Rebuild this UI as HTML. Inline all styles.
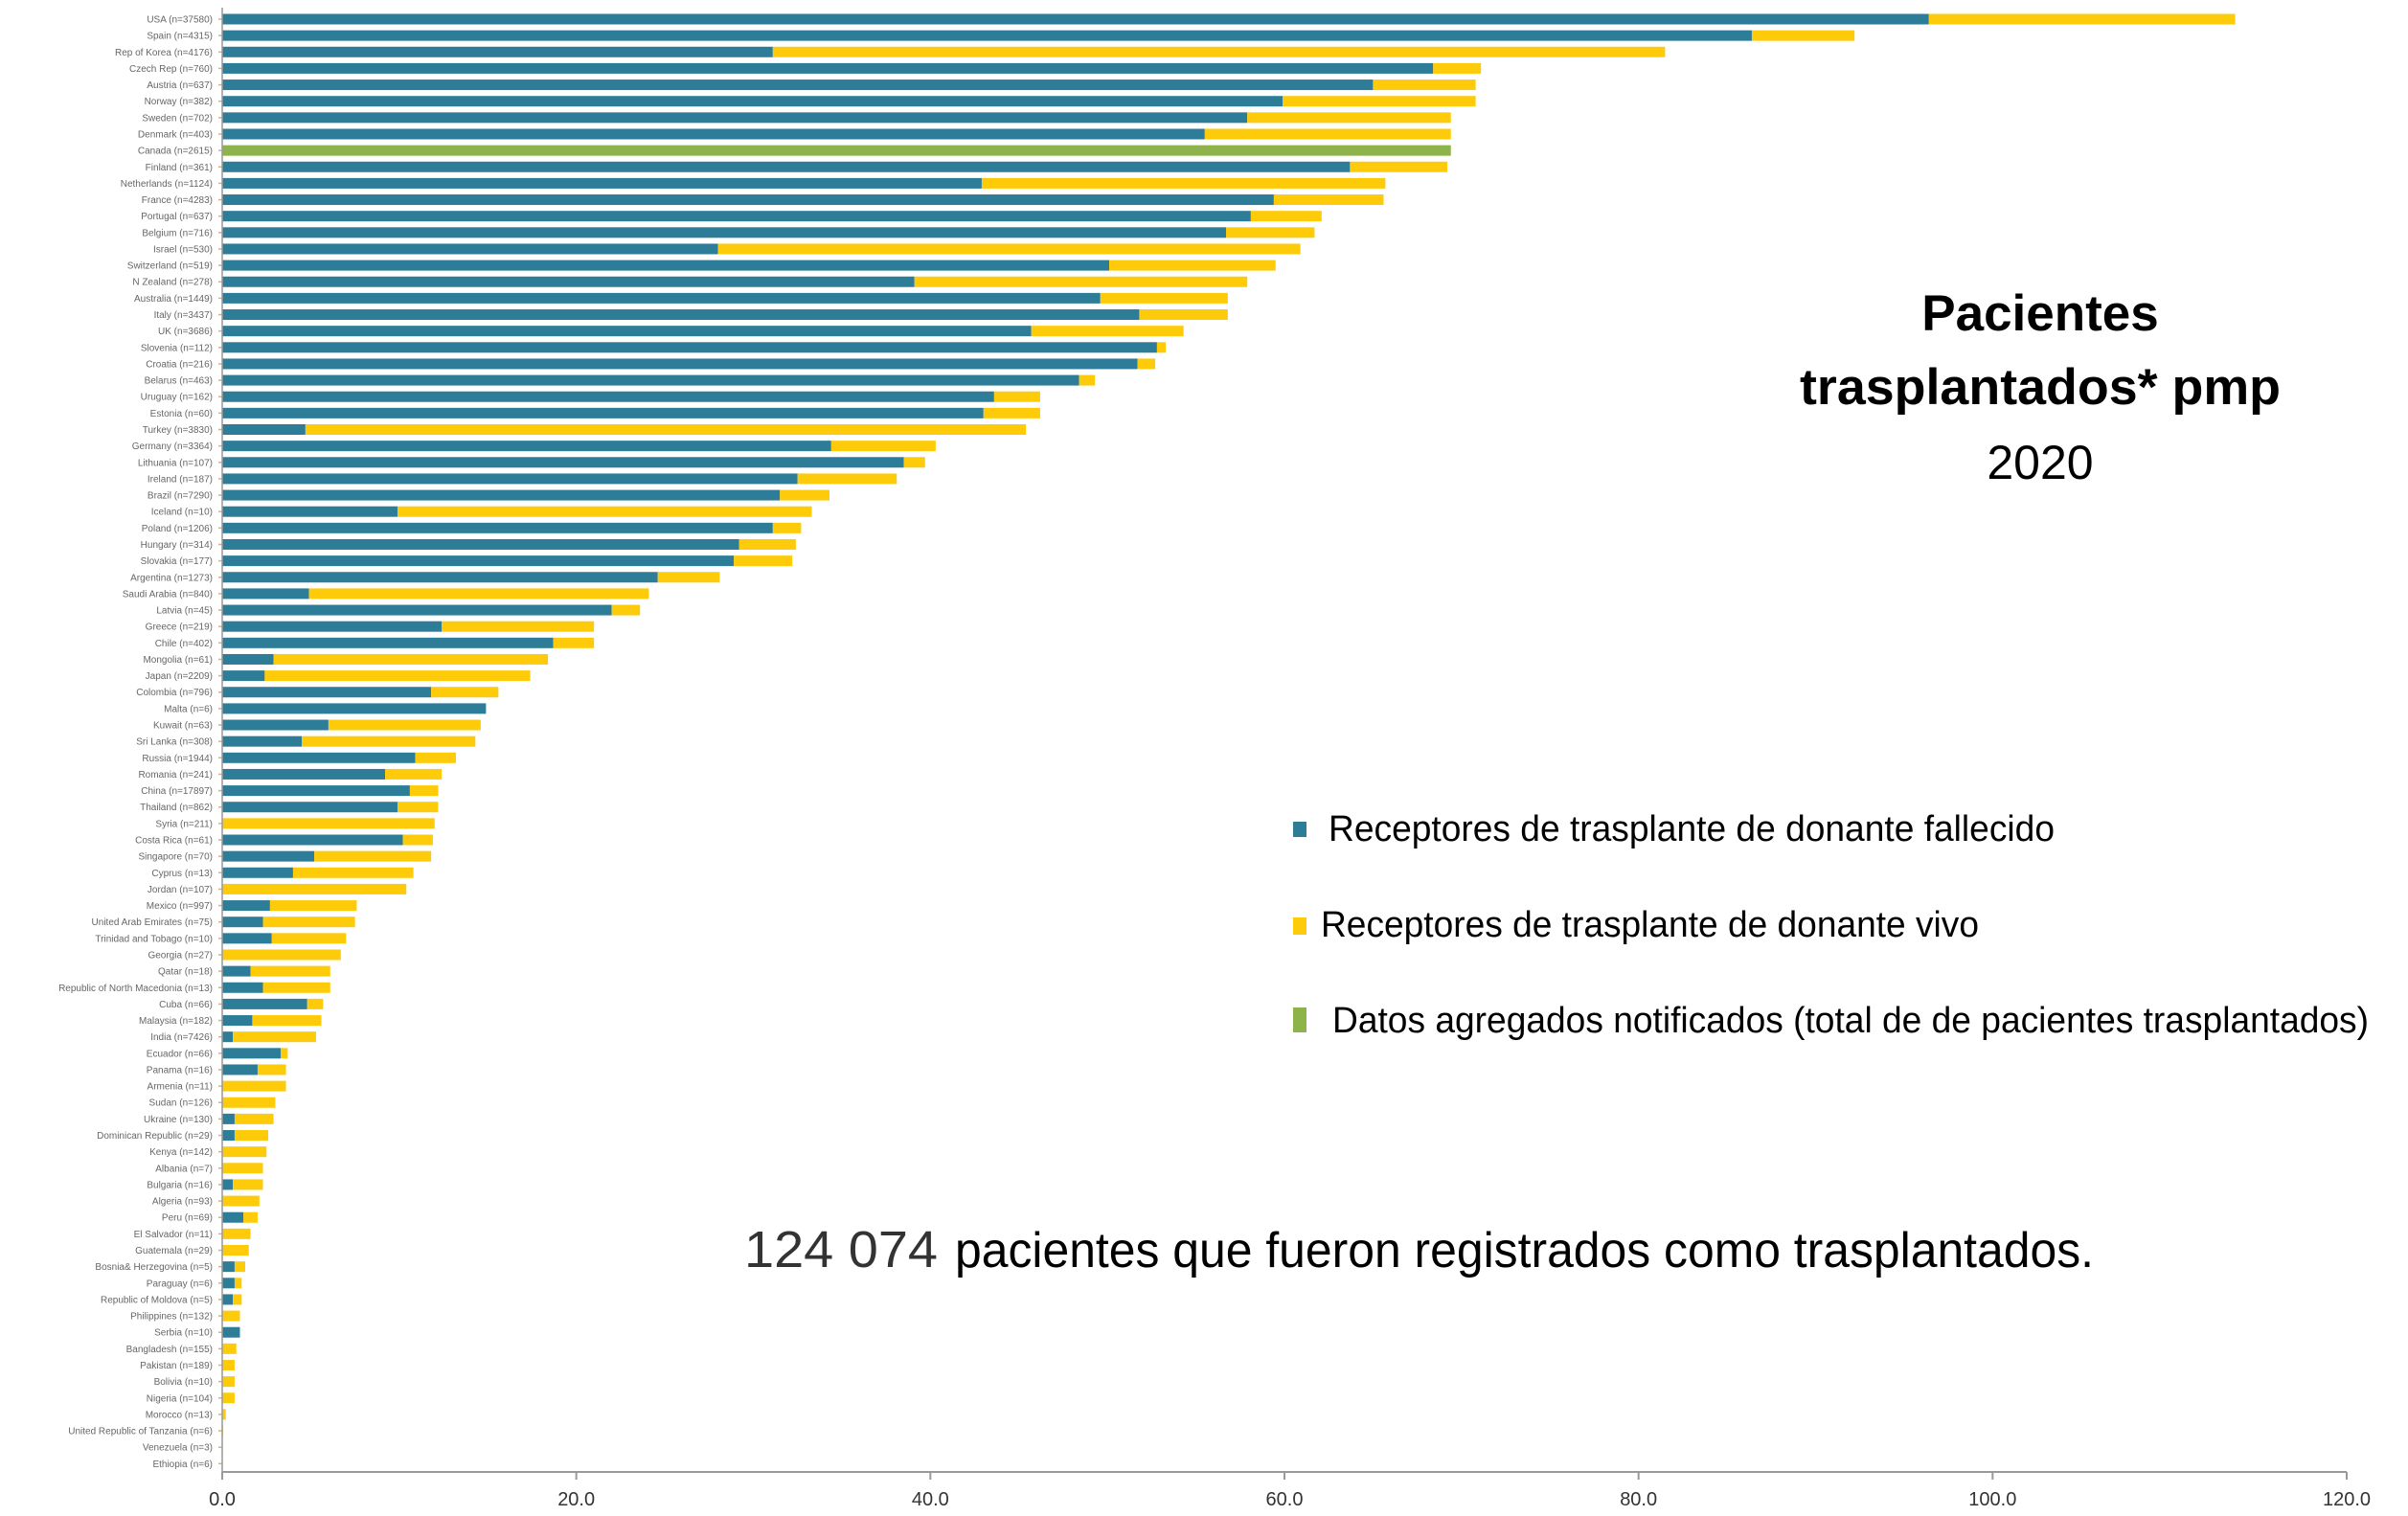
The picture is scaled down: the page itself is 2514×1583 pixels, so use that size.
<!DOCTYPE html>
<html><head><meta charset="utf-8"><title>Pacientes trasplantados pmp 2020</title>
<style>
html,body{margin:0;padding:0;background:#fff;}
svg{display:block;}
</style></head>
<body>
<svg id="chart" width="2514" height="1583" viewBox="0 0 2514 1583" xmlns="http://www.w3.org/2000/svg">
  <g id="bars"></g>
  <g id="ylabels" font-family="Liberation Sans, sans-serif" font-size="10" fill="#666" text-anchor="end"></g>
  <g id="xaxis"></g>
  <g font-family="Liberation Sans, sans-serif" text-anchor="middle" fill="#000">
    <text x="2130" y="345" font-size="53" font-weight="bold">Pacientes</text>
    <text x="2130" y="422" font-size="53" font-weight="bold" textLength="502" lengthAdjust="spacingAndGlyphs">trasplantados* pmp</text>
    <text x="2130" y="500" font-size="50">2020</text>
  </g>
  <g font-family="Liberation Sans, sans-serif" font-size="38" fill="#000">
    <rect x="1350" y="858" width="14" height="16" fill="#2e7d98"/>
    <text x="1387" y="878" textLength="758" lengthAdjust="spacingAndGlyphs">Receptores de trasplante de donante fallecido</text>
    <rect x="1350" y="958" width="14" height="18" fill="#fecb0a"/>
    <text x="1379" y="978" textLength="687" lengthAdjust="spacingAndGlyphs">Receptores de trasplante de donante vivo</text>
    <rect x="1350" y="1052" width="14" height="26" fill="#8db34a"/>
    <text x="1391" y="1078" textLength="1082" lengthAdjust="spacingAndGlyphs">Datos agregados notificados (total de de pacientes trasplantados)</text>
  </g>
  <g font-family="Liberation Sans, sans-serif">
    <text x="777" y="1323" font-size="54" fill="#333" textLength="202" lengthAdjust="spacingAndGlyphs">124 074</text>
    <text x="997" y="1323" font-size="52" fill="#000" textLength="1189" lengthAdjust="spacingAndGlyphs">pacientes que fueron registrados como trasplantados.</text>
  </g>
</svg>
<script>
const countries = ["USA (n=37580)","Spain (n=4315)","Rep of Korea (n=4176)","Czech Rep (n=760)","Austria (n=637)","Norway (n=382)","Sweden (n=702)","Denmark (n=403)","Canada (n=2615)","Finland (n=361)","Netherlands (n=1124)","France (n=4283)","Portugal (n=637)","Belgium (n=716)","Israel (n=530)","Switzerland (n=519)","N Zealand (n=278)","Australia (n=1449)","Italy (n=3437)","UK (n=3686)","Slovenia (n=112)","Croatia (n=216)","Belarus (n=463)","Uruguay (n=162)","Estonia (n=60)","Turkey (n=3830)","Germany (n=3364)","Lithuania (n=107)","Ireland (n=187)","Brazil (n=7290)","Iceland (n=10)","Poland (n=1206)","Hungary (n=314)","Slovakia (n=177)","Argentina (n=1273)","Saudi Arabia (n=840)","Latvia (n=45)","Greece (n=219)","Chile (n=402)","Mongolia (n=61)","Japan (n=2209)","Colombia (n=796)","Malta (n=6)","Kuwait (n=63)","Sri Lanka (n=308)","Russia (n=1944)","Romania (n=241)","China (n=17897)","Thailand (n=862)","Syria (n=211)","Costa Rica (n=61)","Singapore (n=70)","Cyprus (n=13)","Jordan (n=107)","Mexico (n=997)","United Arab Emirates (n=75)","Trinidad and Tobago (n=10)","Georgia (n=27)","Qatar (n=18)","Republic of North Macedonia (n=13)","Cuba (n=66)","Malaysia (n=182)","India (n=7426)","Ecuador (n=66)","Panama (n=16)","Armenia (n=11)","Sudan (n=126)","Ukraine (n=130)","Dominican Republic (n=29)","Kenya (n=142)","Albania (n=7)","Bulgaria (n=16)","Algeria (n=93)","Peru (n=69)","El Salvador (n=11)","Guatemala (n=29)","Bosnia& Herzegovina (n=5)","Paraguay (n=6)","Republic of Moldova (n=5)","Philippines (n=132)","Serbia (n=10)","Bangladesh (n=155)","Pakistan (n=189)","Bolivia (n=10)","Nigeria (n=104)","Morocco (n=13)","United Republic of Tanzania (n=6)","Venezuela (n=3)","Ethiopia (n=6)"];
const deceased = [96.4,86.4,31.1,68.4,65.0,59.9,57.9,55.5,0,63.7,42.9,59.4,58.1,56.7,28.0,50.1,39.1,49.6,51.8,45.7,52.8,51.7,48.4,43.6,43.0,4.7,34.4,38.5,32.5,31.5,9.9,31.1,29.2,28.9,24.6,4.9,22.0,12.4,18.7,2.9,2.4,11.8,14.9,6.0,4.5,10.9,9.2,10.6,9.9,0,10.2,5.2,4.0,0,2.7,2.3,2.8,0,1.6,2.3,4.8,1.7,0.6,3.3,2.0,0,0,0.7,0.7,0,0,0.6,0,1.2,0,0,0.7,0.7,0.6,0,1.0,0,0,0,0,0,0,0,0];
const living = [17.3,5.8,50.4,2.7,5.8,10.9,11.5,13.9,0,5.5,22.8,6.2,4.0,5.0,32.9,9.4,18.8,7.2,5.0,8.6,0.5,1.0,0.9,2.6,3.2,40.7,5.9,1.2,5.6,2.8,23.4,1.6,3.2,3.3,3.5,19.2,1.6,8.6,2.3,15.5,15.0,3.8,0,8.6,9.8,2.3,3.2,1.6,2.3,12.0,1.7,6.6,6.8,10.4,4.9,5.2,4.2,6.7,4.5,3.8,0.9,3.9,4.7,0.4,1.6,3.6,3.0,2.2,1.9,2.5,2.3,1.7,2.1,0.8,1.6,1.5,0.6,0.4,0.5,1.0,0,0.8,0.7,0.7,0.7,0.2,0.05,0.03,0.02];
const aggregate = [0,0,0,0,0,0,0,0,69.4,0,0,0,0,0,0,0,0,0,0,0,0,0,0,0,0,0,0,0,0,0,0,0,0,0,0,0,0,0,0,0,0,0,0,0,0,0,0,0,0,0,0,0,0,0,0,0,0,0,0,0,0,0,0,0,0,0,0,0,0,0,0,0,0,0,0,0,0,0,0,0,0,0,0,0,0,0,0,0,0];
const xTicks = [0,20,40,60,80,100,120];
const xTickLabels = ["0.0","20.0","40.0","60.0","80.0","100.0","120.0"];

const NS = "http://www.w3.org/2000/svg";
const X0 = 232, XMAX = 120, PLOT_W = 2218;
const Y0 = 20, PITCH = 17.14, BAR_H = 11, AXIS_Y = 1537;
function xs(v){ return X0 + v / XMAX * PLOT_W; }
function ys(i){ return Y0 + i * PITCH; }
function mk(tag, attrs, parent){
  const el = document.createElementNS(NS, tag);
  for (const k in attrs) el.setAttribute(k, attrs[k]);
  parent.appendChild(el);
  return el;
}
const barsG = document.getElementById('bars');
const labG = document.getElementById('ylabels');
const axG = document.getElementById('xaxis');

countries.forEach((c, i) => {
  const y = ys(i);
  const t = mk('text', {x: 222, y: y + 3.5}, labG);
  t.textContent = c;
  
  
  const tk = mk('line', {x1: 228, x2: X0, y1: y, y2: y, stroke: '#c9b59a', 'stroke-width': 1.5}, axG);
  
  
  if (aggregate[i] > 0) {
    const r = mk('rect', {x: xs(0), y: y - BAR_H/2, width: xs(aggregate[i]) - xs(0), height: BAR_H, fill: '#8db34a'}, barsG);
    
    
  }
  if (deceased[i] > 0) {
    const r = mk('rect', {x: xs(0), y: y - BAR_H/2, width: xs(deceased[i]) - xs(0), height: BAR_H, fill: '#2e7d98'}, barsG);
    
    
  }
  if (living[i] > 0) {
    const r = mk('rect', {x: xs(deceased[i]), y: y - BAR_H/2, width: xs(deceased[i] + living[i]) - xs(deceased[i]), height: BAR_H, fill: '#fecb0a'}, barsG);
    
    
  }
});

const yl = mk('line', {x1: X0, x2: X0, y1: 8, y2: AXIS_Y, stroke: '#999', 'stroke-width': 1.5}, axG);


const xl = mk('line', {x1: X0, x2: xs(XMAX), y1: AXIS_Y, y2: AXIS_Y, stroke: '#999', 'stroke-width': 2}, axG);


xTicks.forEach((v, j) => {
  const tk = mk('line', {x1: xs(v), x2: xs(v), y1: AXIS_Y, y2: AXIS_Y + 8, stroke: '#999', 'stroke-width': 2}, axG);
  
  
  const t = mk('text', {x: xs(v), y: AXIS_Y + 35, 'font-family': 'Liberation Sans, sans-serif', 'font-size': 20, fill: '#333', 'text-anchor': 'middle'}, axG);
  t.textContent = xTickLabels[j];
  
  
});
</script>
</body></html>
